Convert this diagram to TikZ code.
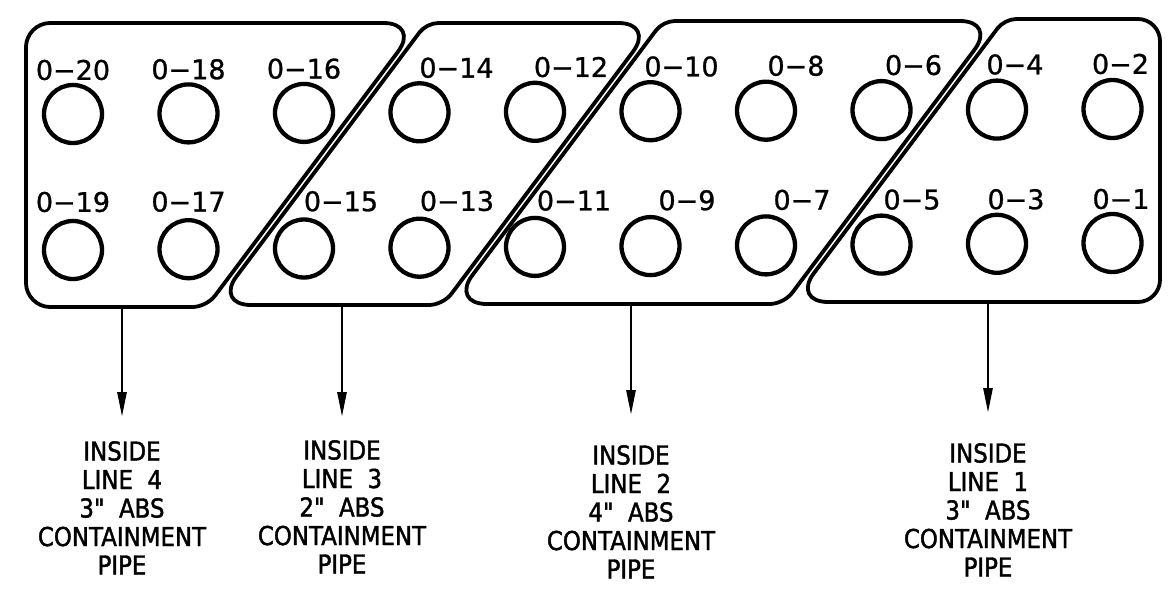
\documentclass[tikz,border=0pt]{standalone}
\usepackage{fontspec}
\setmainfont{DejaVu Sans}[FakeBold=1.0]
\newfontfamily\capfont[FakeStretch=0.88,FakeBold=1.5]{DejaVu Sans}
\usetikzlibrary{calc,arrows.meta}
% rounded corner: prev, vertex, next, tangent distance, control distance
\newcommand{\rc}[5]{-- ($(#2)!#4!(#1)$) .. controls ($(#2)!#5!(#1)$) and ($(#2)!#5!(#3)$) .. ($(#2)!#4!(#3)$)}
\begin{document}
\begin{tikzpicture}[x=1pt,y=-1pt,
  grp/.style={draw, line width=3.8pt, line join=round},
  hole/.style={draw, circle, line width=4.3pt, minimum size=58pt, inner sep=0pt},
  tag/.style={inner sep=0pt, font=\fontsize{27}{30}\selectfont},
  desc/.style={inner sep=0pt, anchor=north, align=center, font=\capfont\fontsize{26}{28.5}\selectfont},
  arr/.style={line width=2.8pt, -{Triangle[length=25pt,width=9pt]}}]
\fill[white] (0,0) rectangle (1170,599);
\useasboundingbox (0,0) rectangle (1170,599);

% ---- group outlines (corner vertices) ----
\coordinate (g4a) at (26,23);     \coordinate (g4b) at (419.5,23);
\coordinate (g4c) at (206.5,307); \coordinate (g4d) at (26,307);
\coordinate (g3a) at (426.5,23);  \coordinate (g3b) at (654.5,23);
\coordinate (g3c) at (443,305);   \coordinate (g3d) at (215,305);
\coordinate (g2a) at (663,21);    \coordinate (g2b) at (996,21);
\coordinate (g2c) at (783.75,304);\coordinate (g2d) at (450.75,304);
\coordinate (g1a) at (1004.5,19); \coordinate (g1b) at (1160,19);
\coordinate (g1c) at (1160,302);  \coordinate (g1d) at (792.25,302);

\draw[grp] ($(g4a)!24pt!(g4b)$) \rc{g4a}{g4b}{g4c}{36pt}{16pt} \rc{g4b}{g4c}{g4d}{14pt}{6pt}
  \rc{g4c}{g4d}{g4a}{24pt}{11pt} \rc{g4d}{g4a}{g4b}{24pt}{11pt} -- cycle;
\draw[grp] ($(g3a)!12pt!(g3b)$) \rc{g3a}{g3b}{g3c}{36pt}{16pt} \rc{g3b}{g3c}{g3d}{14pt}{6pt}
  \rc{g3c}{g3d}{g3a}{36pt}{16pt} \rc{g3d}{g3a}{g3b}{12pt}{5pt} -- cycle;
\draw[grp] ($(g2a)!12pt!(g2b)$) \rc{g2a}{g2b}{g2c}{36pt}{16pt} \rc{g2b}{g2c}{g2d}{14pt}{6pt}
  \rc{g2c}{g2d}{g2a}{36pt}{16pt} \rc{g2d}{g2a}{g2b}{12pt}{5pt} -- cycle;
\draw[grp] ($(g1a)!22pt!(g1b)$) \rc{g1a}{g1b}{g1c}{22pt}{10pt} \rc{g1b}{g1c}{g1d}{22pt}{10pt}
  \rc{g1c}{g1d}{g1a}{36pt}{16pt} \rc{g1d}{g1a}{g1b}{12pt}{5pt} -- cycle;

% ---- holes, top row ----
\node[hole] (h20) at (73,114) {};
\node[hole] (h18) at (188.5,113.4) {};
\node[hole] (h16) at (304,112.9) {};
\node[hole] (h14) at (419.5,112.3) {};
\node[hole] (h12) at (535,111.8) {};
\node[hole] (h10) at (650.5,111.2) {};
\node[hole] (h8)  at (766,110.7) {};
\node[hole] (h6)  at (881.5,110.1) {};
\node[hole] (h4)  at (997,109.6) {};
\node[hole] (h2)  at (1112.5,109) {};
% ---- holes, bottom row ----
\node[hole] (h19) at (73,250) {};
\node[hole] (h17) at (188.5,249.2) {};
\node[hole] (h15) at (304,248.5) {};
\node[hole] (h13) at (419.5,247.7) {};
\node[hole] (h11) at (535,246.9) {};
\node[hole] (h9)  at (650.5,246.1) {};
\node[hole] (h7)  at (766,245.4) {};
\node[hole] (h5)  at (881.5,244.6) {};
\node[hole] (h3)  at (997,243.8) {};
\node[hole] (h1)  at (1112.5,243) {};

% ---- hole labels ----
\node[tag] (t20) at (73,70) {0−20};
\node[tag] (t18) at (188.5,69.3) {0−18};
\node[tag] (t16) at (304,68.7) {0−16};
\node[tag] (t14) at (456.5,67.8) {0−14};
\node[tag] (t12) at (571,67.1) {0−12};
\node[tag] (t10) at (681.5,66.5) {0−10};
\node[tag] (t8)  at (796,65.8) {0−8};
\node[tag] (t6)  at (913.5,65.1) {0−6};
\node[tag] (t4)  at (1015,64.5) {0−4};
\node[tag] (t2)  at (1120.5,64) {0−2};
\node[tag] (t19) at (73,202) {0−19};
\node[tag] (t17) at (188.5,201.7) {0−17};
\node[tag] (t15) at (341,201.3) {0−15};
\node[tag] (t13) at (457,201) {0−13};
\node[tag] (t11) at (574,200.6) {0−11};
\node[tag] (t9)  at (687,200.3) {0−9};
\node[tag] (t7)  at (802,199.9) {0−7};
\node[tag] (t5)  at (912,199.6) {0−5};
\node[tag] (t3)  at (1016,199.3) {0−3};
\node[tag] (t1)  at (1121,199) {0−1};

% ---- line descriptions ----
\node[desc] (d4) at (122,441) {INSIDE\\LINE\ \ 4\\3"\ \ ABS\\CONTAINMENT\\PIPE};
\node[desc] (d3) at (342,440) {INSIDE\\LINE\ \ 3\\2"\ \ ABS\\CONTAINMENT\\PIPE};
\node[desc] (d2) at (631,445) {INSIDE\\LINE\ \ 2\\4"\ \ ABS\\CONTAINMENT\\PIPE};
\node[desc] (d1) at (988,443) {INSIDE\\LINE\ \ 1\\3"\ \ ABS\\CONTAINMENT\\PIPE};

% ---- arrows ----
\coordinate (s4) at (122,307); \coordinate (e4) at (122,417);
\coordinate (s3) at (342,305); \coordinate (e3) at (342,417);
\coordinate (s2) at (631,304); \coordinate (e2) at (631,415);
\coordinate (s1) at (988,302); \coordinate (e1) at (988,413);
\draw[arr] (s4) -- (e4);
\draw[arr] (s3) -- (e3);
\draw[arr] (s2) -- (e2);
\draw[arr] (s1) -- (e1);
\end{tikzpicture}
\end{document}
